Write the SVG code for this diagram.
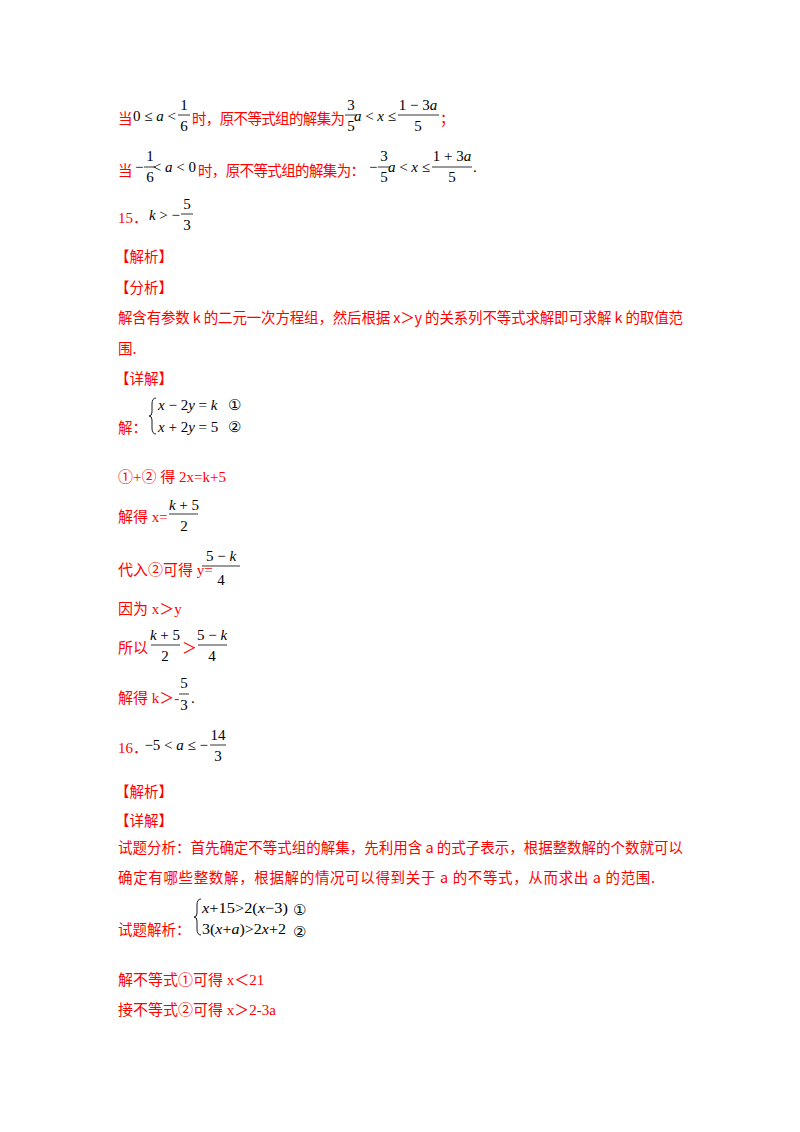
<svg xmlns="http://www.w3.org/2000/svg" width="800" height="1132" viewBox="0 0 800 1132">
<style>
.r{fill:#ff0000;font-family:"Noto Sans CJK SC","Liberation Serif",serif;font-size:14.5px}
.rs{fill:#ff0000;font-family:"Liberation Serif","Noto Sans CJK SC",serif;font-size:15px}
.m{fill:#000;font-family:"Liberation Serif",serif;font-size:15px}
.i{font-style:italic}
.b{stroke:#000;stroke-width:0.8}
.c{text-anchor:middle}
.e{text-anchor:end}
.br{fill:none;stroke:#000;stroke-width:0.9}
</style>
<rect width="800" height="1132" fill="#fff"/>
<g id="line1">
<text class="r" x="118" y="124">当</text>
<text class="m e" x="176" y="121">0 ≤ <tspan class="i">a</tspan> &lt;</text>
<text class="m c" x="184" y="110">1</text><line class="b" x1="178" y1="115" x2="190" y2="115"/><text class="m c" x="184" y="131">6</text>
<text class="r" x="192" y="124" textLength="153">时，原不等式组的解集为</text>
<text class="m c" x="351" y="110">3</text><line class="b" x1="345" y1="115" x2="357" y2="115"/><text class="m c" x="351" y="131">5</text>
<text class="m e" x="396" y="121"><tspan class="i">a</tspan> &lt; <tspan class="i">x</tspan> ≤</text>
<text class="m c" x="418" y="110">1 − 3<tspan class="i">a</tspan></text><line class="b" x1="398" y1="115" x2="439" y2="115"/><text class="m c" x="418" y="131">5</text>
<text class="r" x="440" y="124">；</text>
</g>
<g id="line2">
<text class="r" x="118" y="176">当</text>
<text class="m" x="135" y="172">−</text>
<text class="m c" x="150" y="161">1</text><line class="b" x1="144" y1="167" x2="156" y2="167"/><text class="m c" x="150" y="182">6</text>
<text class="m e" x="196" y="172">&lt; <tspan class="i">a</tspan> &lt; 0</text>
<text class="r" x="198" y="176" textLength="167">时，原不等式组的解集为：</text>
<text class="m" x="369" y="172">−</text>
<text class="m c" x="384" y="161">3</text><line class="b" x1="378" y1="167" x2="390" y2="167"/><text class="m c" x="384" y="182">5</text>
<text class="m e" x="430" y="172"><tspan class="i">a</tspan> &lt; <tspan class="i">x</tspan> ≤</text>
<text class="m c" x="452" y="161">1 + 3<tspan class="i">a</tspan></text><line class="b" x1="432" y1="167" x2="472" y2="167"/><text class="m c" x="452" y="182">5</text>
<text class="m" x="473" y="172">.</text>
</g>
<g id="q15">
<text class="rs" x="118" y="223">15．</text>
<text class="m e" x="180" y="220"><tspan class="i">k</tspan> &gt; −</text>
<text class="m c" x="187" y="209">5</text><line class="b" x1="181" y1="214" x2="193" y2="214"/><text class="m c" x="187" y="230">3</text>
<text class="r" x="115" y="262">【解析】</text>
<text class="r" x="115" y="293">【分析】</text>
<text class="r" x="118" y="323" textLength="565">解含有参数 k 的二元一次方程组，然后根据 x＞y 的关系列不等式求解即可求解 k 的取值范</text>
<text class="r" x="118" y="354">围.</text>
<text class="r" x="115" y="384">【详解】</text>
<text class="r" x="118" y="433">解：</text>
<path class="br" d="M156,398 Q152,398 152,404 L152,412 Q152,416 149,416 Q152,416 152,420 L152,428 Q152,434 156,434"/>
<text class="m" x="158" y="410"><tspan class="i">x</tspan> − 2<tspan class="i">y</tspan> = <tspan class="i">k</tspan></text>
<text class="m" x="158" y="432"><tspan class="i">x</tspan> + 2<tspan class="i">y</tspan> = 5</text>
<text class="m" x="228" y="410">①</text>
<text class="m" x="228" y="432">②</text>
<text class="rs" x="118" y="482">①+② 得 2x=k+5</text>
<text class="rs" x="118" y="522">解得 x=</text>
<text class="m c" x="184" y="510"><tspan class="i">k</tspan> + 5</text><line class="b" x1="169" y1="514" x2="198" y2="514"/><text class="m c" x="184" y="531">2</text>
<text class="rs" x="118" y="575">代入②可得 y=</text>
<text class="m c" x="221" y="561">5 − <tspan class="i">k</tspan></text><line class="b" x1="202" y1="566" x2="240" y2="566"/><text class="m c" x="221" y="585">4</text>
<text class="rs" x="118" y="614">因为 x＞y</text>
<text class="rs" x="118" y="653">所以</text>
<text class="m c" x="165" y="640"><tspan class="i">k</tspan> + 5</text><line class="b" x1="151" y1="645" x2="180" y2="645"/><text class="m c" x="165" y="661">2</text>
<text class="rs" x="182" y="653">＞</text>
<text class="m c" x="212" y="640">5 − <tspan class="i">k</tspan></text><line class="b" x1="198" y1="645" x2="227" y2="645"/><text class="m c" x="212" y="661">4</text>
<text class="rs" x="118" y="703">解得 k＞-</text>
<text class="m c" x="184" y="688">5</text><line class="b" x1="179" y1="694" x2="189" y2="694"/><text class="m c" x="184" y="710">3</text>
<text class="m" x="191" y="703">.</text>
</g>
<g id="q16">
<text class="rs" x="118" y="753">16．</text>
<text class="m e" x="208" y="750">−5 &lt; <tspan class="i">a</tspan> ≤ −</text>
<text class="m c" x="218" y="740">14</text><line class="b" x1="210" y1="745" x2="226" y2="745"/><text class="m c" x="218" y="761">3</text>
<text class="r" x="115" y="797">【解析】</text>
<text class="r" x="115" y="826">【详解】</text>
<text class="r" x="118" y="853" textLength="565">试题分析：首先确定不等式组的解集，先利用含 a 的式子表示，根据整数解的个数就可以</text>
<text class="r" x="118" y="883" textLength="537">确定有哪些整数解，根据解的情况可以得到关于 a 的不等式，从而求出 a 的范围.</text>
<text class="r" x="118" y="935">试题解析：</text>
<path class="br" d="M201,899 Q197,899 197,905 L197,913 Q197,917 194,917 Q197,917 197,921 L197,929 Q197,935 201,935"/>
<text class="m" x="202" y="913" textLength="86" lengthAdjust="spacingAndGlyphs"><tspan class="i">x</tspan>+15&gt;2(<tspan class="i">x</tspan>−3)</text>
<text class="m" x="202" y="934" textLength="84" lengthAdjust="spacingAndGlyphs">3(<tspan class="i">x</tspan>+<tspan class="i">a</tspan>)&gt;2<tspan class="i">x</tspan>+2</text>
<text class="m" x="293" y="915">①</text>
<text class="m" x="293" y="937">②</text>
<text class="rs" x="118" y="985">解不等式①可得 x＜21</text>
<text class="rs" x="118" y="1015">接不等式②可得 x＞2-3a</text>
</g>
</svg>
